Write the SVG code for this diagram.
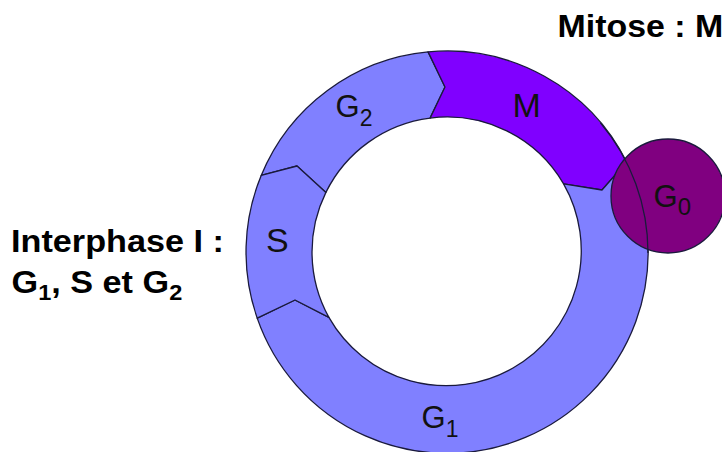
<svg xmlns="http://www.w3.org/2000/svg" width="722" height="452" viewBox="0 0 722 452">
  <style>
    .phase { fill: #8080ff; stroke: #1a1a3c; stroke-width: 1.3; stroke-linejoin: round; }
    .mitosis { fill: #8000ff; }
    .g0 { fill: #800080; stroke: #1a1a3c; stroke-width: 1.3; }
    .edge { fill: none; stroke: #1a1a3c; stroke-width: 1.3; }
    .lbl { font-family: "Liberation Sans", Arial, sans-serif; fill: #111; }
    .head { font-family: "Liberation Sans", Arial, sans-serif; font-weight: bold; fill: #000; }
  </style>
  <rect width="722" height="452" fill="#ffffff"/>

  <!-- cell cycle ring, centre (447,252), outer r 201, inner r 135 -->
  <g id="G2">
    <path class="phase" d="M 261.2 175.4 A 201 201 0 0 1 428.1 51.9 L 445 87 L 430.1 118.1 A 135 135 0 0 0 325.9 192.4 L 297 166 Z"/>
    <text class="lbl" x="335.5" y="117" font-size="31">G<tspan font-size="23" dy="9">2</tspan></text>
  </g>
  <g id="M">
    <path class="phase mitosis" d="M 428.1 51.9 A 201 201 0 0 1 626.7 162 L 602 190 L 563.6 183.9 A 135 135 0 0 0 430.1 118.1 L 445 87 Z"/>
    <text class="lbl" x="512.5" y="117" font-size="34">M</text>
  </g>
  <g id="G1">
    <path class="phase" d="M 626.7 162 A 201 201 0 1 1 257.2 318.1 L 295 300 L 328.9 317.4 A 135 135 0 1 0 563.6 183.9 L 602 190 Z"/>
    <text class="lbl" x="421.5" y="428" font-size="31">G<tspan font-size="23" dy="9">1</tspan></text>
  </g>
  <g id="S">
    <path class="phase" d="M 257.2 318.1 A 201 201 0 0 1 261.2 175.4 L 297 166 L 325.9 192.4 A 135 135 0 0 0 328.9 317.4 L 295 300 Z"/>
    <text class="lbl" x="266" y="252" font-size="34">S</text>
  </g>

  <!-- quiescent phase, overlapping the ring -->
  <g id="G0">
    <circle class="g0" cx="668" cy="196" r="57"/>
    <path class="edge" d="M 600.4 122.8 A 201 201 0 0 1 648 253"/>
    <text class="lbl" x="653.5" y="207" font-size="31">G<tspan font-size="24" dy="8">0</tspan></text>
  </g>

  <g id="connectors"/>

  <!-- headings -->
  <g id="mitose-label">
    <text class="head" font-size="32" transform="translate(557.5 37) scale(1.06 1)">Mitose : M</text>
  </g>
  <g id="interphase-label">
    <text class="head" font-size="32" transform="translate(11 252) scale(1.07 1)">Interphase I :</text>
    <text class="head" font-size="32" transform="translate(11.5 293) scale(1.07 1)">G<tspan font-size="22" dy="7">1</tspan><tspan dy="-7">, S et G</tspan><tspan font-size="22" dy="7">2</tspan></text>
  </g>
</svg>
